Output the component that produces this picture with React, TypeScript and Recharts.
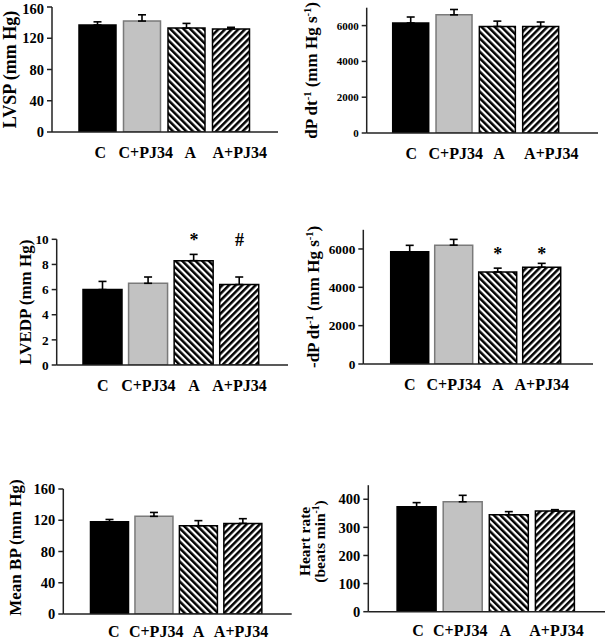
import React from 'react';
import { ComposedChart, Bar, Cell, ErrorBar, XAxis, YAxis, ReferenceDot } from 'recharts';

// groups on the x axis
const categories = ['C', 'C+PJ34', 'A', 'A+PJ34'];

// means and upward SEM bars
const lvspMean = [137, 142, 133, 132];
const lvspSem = [4, 8, 6, 2];
const lvspTicks = [0, 40, 80, 120, 160];

const dpdtMean = [6150, 6600, 5950, 5950];
const dpdtSem = [330, 300, 300, 250];
const dpdtTicks = [0, 2000, 4000, 6000];

const lvedpMean = [6.0, 6.5, 8.3, 6.4];
const lvedpSem = [0.65, 0.5, 0.5, 0.6];
const lvedpMarks = ['', '', '*', '#'];
const lvedpTicks = [0, 2, 4, 6, 8, 10];

const negDpdtMean = [5850, 6200, 4800, 5050];
const negDpdtSem = [340, 300, 200, 200];
const negDpdtMarks = ['', '', '*', '*'];
const negDpdtTicks = [0, 2000, 4000, 6000];

const mbpMean = [118, 125, 113, 116];
const mbpSem = [3, 5, 6.5, 6];
const mbpTicks = [0, 40, 80, 120, 160];

const hrMean = [373, 391, 345, 358];
const hrSem = [15, 23, 11, 5];
const hrTicks = [0, 100, 200, 300, 400];

const FONT = "'Liberation Serif', 'Times New Roman', Times, serif";

// one title line, with ^{..} for superscripts
const renderTitleLine = (line: string, x: number, y: number, fs: number, key: number) => {
  const parts = line.split(/\^\{([^}]*)\}/);
  const bx = x + fs * 0.32;
  const spans: React.ReactNode[] = [];
  let raised = false;
  parts.forEach((t, i) => {
    if (!t) return;
    const sup = i % 2 === 1;
    let dy = 0;
    if (sup && !raised) { dy = -fs * 0.38; raised = true; }
    if (!sup && raised) { dy = fs * 0.38; raised = false; }
    spans.push(
      <tspan key={i} dy={dy} fontSize={sup ? fs * 0.62 : fs}>{t}</tspan>
    );
  });
  return (
    <text key={key} x={bx} y={y} transform={`rotate(-90, ${bx}, ${y})`} textAnchor="middle"
      fontFamily={FONT} fontWeight="bold" fontSize={fs} fill="#000">
      {spans}
    </text>
  );
};

const Panel = ({ p }: { p: any }) => {
  const data = categories.map((name, i) => ({ name, value: p.mean[i], err: [0, p.sem[i]] }));
  const fills = ['#000000', '#c2c2c2', `url(#back-${p.id})`, `url(#fwd-${p.id})`];
  const strokes = ['#000000', '#7a7a7a', '#000000', '#000000'];
  const titleCy = (p.plotTop + p.plotBottom) / 2 - p.top + (p.titleShift || 0);

  return (
    <div style={{ position: 'absolute', left: p.left, top: p.top }}>
      <ComposedChart
        width={p.width}
        height={p.height}
        data={data}
        margin={{ top: p.plotTop - p.top, right: p.left + p.width - p.axisRight, left: 0, bottom: 0 }}
      >
        <defs>
          <pattern id={`back-${p.id}`} patternUnits="userSpaceOnUse" width="4.7" height="4.7" patternTransform="rotate(-45)">
            <rect width="4.7" height="4.7" fill="#fff" />
            <rect width="2.5" height="4.7" fill="#000" />
          </pattern>
          <pattern id={`fwd-${p.id}`} patternUnits="userSpaceOnUse" width="4.7" height="4.7" patternTransform="rotate(45)">
            <rect width="4.7" height="4.7" fill="#fff" />
            <rect width="2.5" height="4.7" fill="#000" />
          </pattern>
        </defs>
        <XAxis
          dataKey="name"
          type="category"
          interval={0}
          height={p.top + p.height - p.plotBottom}
          padding={{ left: p.padL, right: p.padR }}
          axisLine={{ stroke: '#222', strokeWidth: 1.5 }}
          tickLine={false}
          tickSize={0}
          tickMargin={0}
          tick={(t: any) => (
            <text x={t.x + (p.shift ? p.shift[t.index] : 0)} y={t.y + (p.catDy || 20)} textAnchor="middle" dominantBaseline="central"
              fontFamily={FONT} fontWeight="bold" fontSize={p.catFs} fill="#000">
              {t.payload.value}
            </text>
          )}
        />
        <YAxis
          type="number"
          domain={[0, p.max]}
          ticks={p.ticks}
          allowDataOverflow
          width={p.axisX - p.left}
          axisLine={{ stroke: '#222', strokeWidth: 1.5 }}
          tickLine={{ stroke: '#222', strokeWidth: 1.5 }}
          tickSize={5}
          tickMargin={3}
          tick={{ fill: '#000', fontSize: p.tickFs, fontWeight: 'bold', fontFamily: FONT }}
          label={{
            content: () => (
              <g>
                {p.title.map((line: string, i: number) =>
                  renderTitleLine(line, p.titleX[i] - p.left, titleCy, p.titleFs, i)
                )}
              </g>
            ),
          }}
        />
        <Bar dataKey="value" barSize={p.barSize} isAnimationActive={false}>
          {data.map((d, i) => (
            <Cell key={d.name} fill={fills[i]} stroke={strokes[i]} strokeWidth={1.5} />
          ))}
          <ErrorBar dataKey="err" width={4} stroke="#000" strokeWidth={1.6} direction="y" />
        </Bar>
        {p.marks &&
          p.marks.map((m: string, i: number) =>
            m ? (
              <ReferenceDot
                key={i}
                x={categories[i]}
                y={p.markLevel}
                ifOverflow="visible"
                shape={(s: any) => (
                  <text x={s.cx} y={s.cy + 7} textAnchor="middle" fontFamily={FONT} fontWeight="bold" fontSize={18} fill="#000">
                    {m}
                  </text>
                )}
              />
            ) : null
          )}
      </ComposedChart>
    </div>
  );
};

const panels = [
  {
    id: 'lvsp', mean: lvspMean, sem: lvspSem, ticks: lvspTicks, max: 160,
    left: 0, top: 0, width: 300, height: 170, axisX: 52, plotTop: 7, plotBottom: 132, axisRight: 278,
    padL: 23, padR: 25, barSize: 37, tickFs: 14.5, catFs: 16, titleFs: 18,
    title: ['LVSP (mm Hg)'], titleX: [10.5], shift: [3, 4, 4, 9],
  },
  {
    id: 'dpdt', mean: dpdtMean, sem: dpdtSem, ticks: dpdtTicks, max: 7000,
    left: 300, top: 0, width: 307, height: 170, axisX: 366.7, plotTop: 7.7, plotBottom: 133, axisRight: 598,
    padL: 22, padR: 36, barSize: 36, tickFs: 11, catFs: 16, titleFs: 17,
    title: ['dP dt^{-1} (mm Hg s^{-1})'], titleX: [312], shift: [1, 2, 2, 11],
  },
  {
    id: 'lvedp', mean: lvedpMean, sem: lvedpSem, ticks: lvedpTicks, max: 10, marks: lvedpMarks, markLevel: 10,
    left: 0, top: 220, width: 300, height: 180, axisX: 56.7, plotTop: 239.3, plotBottom: 365, axisRight: 288,
    padL: 23.3, padR: 25.7, barSize: 39, tickFs: 13.3, catFs: 16, titleFs: 17,
    title: ['LVEDP (mm Hg)'], titleX: [26], shift: [0, 0, 0, 0],
  },
  {
    id: 'ndpdt', mean: negDpdtMean, sem: negDpdtSem, ticks: negDpdtTicks, max: 7000, marks: negDpdtMarks, markLevel: 5800,
    left: 300, top: 220, width: 307, height: 180, axisX: 363.3, plotTop: 229.8, plotBottom: 364, axisRight: 593,
    padL: 24.4, padR: 29.3, barSize: 38, tickFs: 13.3, catFs: 16, titleFs: 17,
    title: ['-dP dt^{-1} (mm Hg s^{-1})'], titleX: [314], shift: [0, 0, 0, 0],
  },
  {
    id: 'mbp', mean: mbpMean, sem: mbpSem, ticks: mbpTicks, max: 160,
    left: 0, top: 470, width: 300, height: 170, axisX: 63.3, plotTop: 489, plotBottom: 614, axisRight: 291.7,
    padL: 24.2, padR: 26.4, barSize: 38, tickFs: 14.5, catFs: 16, titleFs: 17, catDy: 17,
    title: ['Mean BP (mm Hg)'], titleX: [16], titleShift: -4, shift: [4, 2, 0, -2],
  },
  {
    id: 'hr', mean: hrMean, sem: hrSem, ticks: hrTicks, max: 450,
    left: 294, top: 470, width: 313, height: 170, axisX: 368.3, plotTop: 485.2, plotBottom: 611.7, axisRight: 605,
    padL: 24.8, padR: 27.5, barSize: 39, tickFs: 14.5, catFs: 16, titleFs: 15.5, catDy: 19,
    title: ['Heart rate', '(beats min^{-1})'], titleX: [305, 320], titleShift: -7, shift: [2, -2, -3, 2],
  },
];

export default function App() {
  return (
    <div style={{ position: 'absolute', left: 0, top: 0, width: 607, height: 640, background: '#fff', overflow: 'hidden' }}>
      {panels.map((p) => (
        <Panel key={p.id} p={p} />
      ))}
    </div>
  );
}
